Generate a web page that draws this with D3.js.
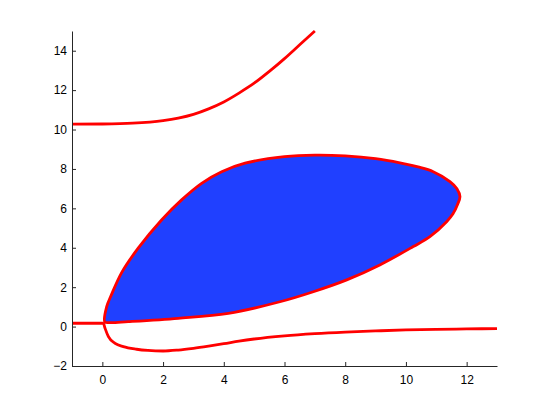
<!DOCTYPE html>
<html>
<head>
<meta charset="utf-8">
<script src="https://cdn.jsdelivr.net/npm/d3@7"></script>
<style>
  body { margin: 0; background: #fff; }
  svg text { font-family: "Liberation Sans", Arial, Helvetica, sans-serif; }
</style>
</head>
<body>
<svg id="chart" width="548" height="412"></svg>
<script>
// axis ticks
const xTicks = [0, 2, 4, 6, 8, 10, 12];
const yTicks = [-2, 0, 2, 4, 6, 8, 10, 12, 14];

// upper branch
const topX = [-1, 0, 1, 2, 2.5, 3, 3.5, 4, 4.5, 5, 5.5, 6, 6.5, 7];
const topY = [10.27, 10.28, 10.32, 10.45, 10.58, 10.77, 11.05, 11.4, 11.85, 12.35, 12.95, 13.6, 14.3, 15];

// lower branch
const lowX = [-1, -0.5, 0, 0.04, 0.09, 0.2, 0.42, 0.69, 1.13, 1.5, 2, 2.5, 3, 3.5, 4, 4.5, 5, 6, 7, 8, 9, 10, 11, 12, 13];
const lowY = [0.17, 0.17, 0.17, 0.14, -0.09, -0.51, -0.85, -1.02, -1.15, -1.21, -1.24, -1.19, -1.1, -0.99, -0.87, -0.74, -0.63, -0.47, -0.36, -0.28, -0.22, -0.17, -0.14, -0.12, -0.1];

// closed region (boundary, clockwise from the left tip)
const loopX = [0.08, 0.14, 0.3, 0.64, 1.18, 1.95, 2.61, 3.27, 3.93, 4.7, 6.0, 7.0, 8.0, 9.0, 9.8, 10.4, 10.9, 11.45, 11.68, 11.78, 11.7, 11.55, 11.34, 10.79, 10.24, 9.14, 8.05, 6.95, 5.85, 4.15, 2.5, 0.85, 0.25];
const loopY = [0.24, 1.0, 1.62, 2.75, 3.98, 5.41, 6.43, 7.27, 7.86, 8.29, 8.62, 8.7, 8.66, 8.52, 8.31, 8.1, 7.86, 7.36, 7.0, 6.6, 6.2, 5.72, 5.32, 4.56, 4.06, 3.13, 2.37, 1.77, 1.26, 0.67, 0.42, 0.25, 0.2];

const margin = { left: 72, right: 51, top: 31, bottom: 46 };
const w = 548, h = 412;

const svg = d3.select("#chart");

const x = d3.scaleLinear().domain([-1, 13]).range([margin.left, w - margin.right]);
const y = d3.scaleLinear().domain([-2, 15]).range([h - margin.bottom, margin.top]);

const zip = (xs, ys) => xs.map((v, i) => [v, ys[i]]);

//region
const loop = d3.line()
  .x(d => x(d[0]))
  .y(d => y(d[1]))
  .curve(d3.curveCatmullRomClosed.alpha(0.5));

svg.append("path")
  .attr("d", loop(zip(loopX, loopY)))
  .attr("fill", "#2040ff")
  .attr("stroke", "#ff0000")
  .attr("stroke-width", 2.8)
  .attr("stroke-linejoin", "round");

//branches
const line = d3.line()
  .x(d => x(d[0]))
  .y(d => y(d[1]))
  .curve(d3.curveMonotoneX);

[zip(topX, topY), zip(lowX, lowY)].forEach(pts => {
  svg.append("path")
    .attr("d", line(pts))
    .attr("fill", "none")
    .attr("stroke", "#ff0000")
    .attr("stroke-width", 2.8)
    .attr("stroke-linejoin", "round");
});

//axes
const xAxis = svg.append("g")
  .attr("transform", "translate(0," + y(-2) + ")")
  .call(d3.axisBottom(x).tickValues(xTicks).tickSizeInner(-4).tickSizeOuter(0).tickPadding(9));

const yAxis = svg.append("g")
  .attr("transform", "translate(" + x(-1) + ",0)")
  .call(d3.axisLeft(y).tickValues(yTicks).tickSizeInner(-4).tickSizeOuter(0).tickPadding(5));

[xAxis, yAxis].forEach(g => {
  g.selectAll("path, line").attr("stroke", "#262626");
  g.selectAll("text").attr("fill", "#000").style("font-size", "12px");
});
</script>
</body>
</html>
